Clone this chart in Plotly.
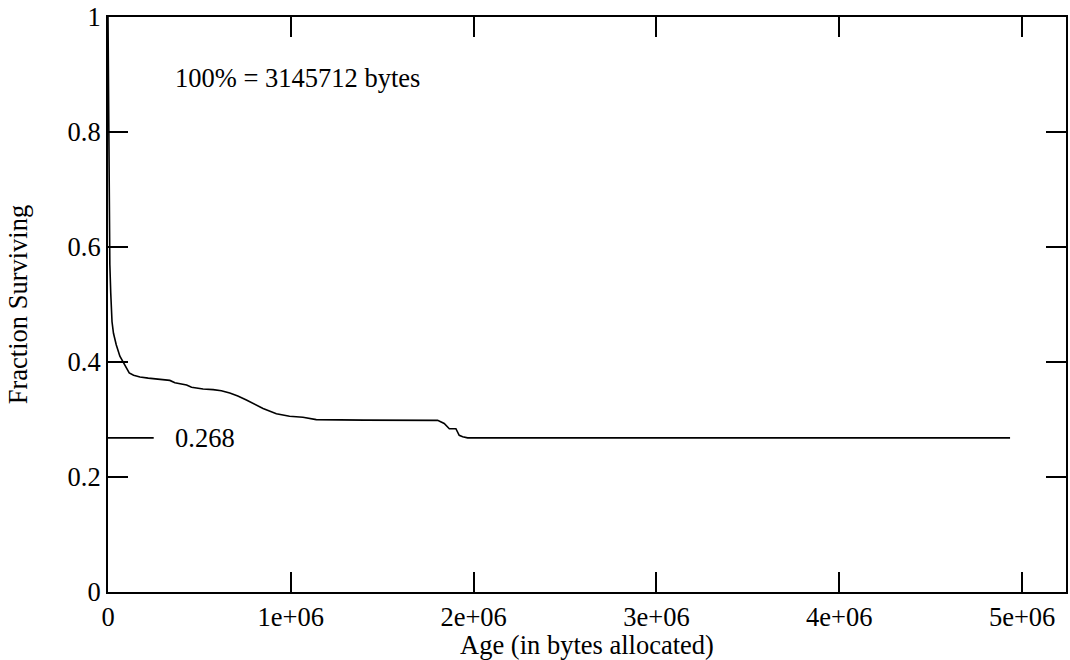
import plotly.graph_objects as go

age = [0, 2000, 4000, 7000, 10000, 15000, 22000, 30000, 45000, 65000,
       85000, 100000, 116000, 140000, 175000, 220000, 266000, 338000, 366000, 400000,
       430000, 457000, 520000, 575000, 620000, 666000, 710000, 757000, 800000, 848000,
       921000, 993000, 1066000, 1139000, 1400000, 1700000, 1803000, 1839000, 1867000, 1903000,
       1921000, 1940000, 1967000, 2500000, 3500000, 4934000]
fraction = [1.0, 0.92, 0.80, 0.66, 0.57, 0.52, 0.47, 0.45, 0.43, 0.41,
            0.398, 0.388, 0.381, 0.377, 0.374, 0.372, 0.370, 0.368, 0.364, 0.362,
            0.360, 0.356, 0.353, 0.352, 0.350, 0.346, 0.341, 0.334, 0.327, 0.319,
            0.310, 0.3056, 0.304, 0.2998, 0.299, 0.299, 0.2985, 0.293, 0.284, 0.284,
            0.2726, 0.270, 0.268, 0.268, 0.268, 0.268]

x_ticks = [0, 1e6, 2e6, 3e6, 4e6, 5e6]
x_labels = ["0", "1e+06", "2e+06", "3e+06", "4e+06", "5e+06"]
y_ticks = [0, 0.2, 0.4, 0.6, 0.8, 1]
y_labels = ["0", "0.2", "0.4", "0.6", "0.8", "1"]

final_value = 0.268
total_label = "100% = 3145712 bytes"
marker_len = 0.25e6
label_x = 0.355e6
note_y = 0.894

FONT = "Liberation Serif, Times New Roman, serif"
FS = 26.5

fig = go.Figure()
fig.add_trace(go.Scatter(x=age, y=fraction, mode="lines",
                         line=dict(color="black", width=1.6), showlegend=False,
                         hoverinfo="skip"))
fig.add_trace(go.Scatter(x=[0, marker_len], y=[final_value, final_value], mode="lines",
                         line=dict(color="black", width=1.6), showlegend=False,
                         hoverinfo="skip"))

fig.add_annotation(x=label_x, y=final_value, text=f"{final_value:g}", showarrow=False,
                   xanchor="left", yanchor="middle", font=dict(size=FS, color="black", family=FONT))
fig.add_annotation(x=label_x, y=note_y, text=total_label, showarrow=False,
                   xanchor="left", yanchor="middle", font=dict(size=FS, color="black", family=FONT))

axis_common = dict(showline=True, linewidth=2, linecolor="black", mirror="allticks",
                   ticks="inside", ticklen=20, tickwidth=1.5, tickcolor="black",
                   showgrid=False, zeroline=False,
                   tickfont=dict(size=FS, color="black", family=FONT))

fig.update_xaxes(range=[0, 5.24e6], tickvals=x_ticks, ticktext=x_labels,
                 title=dict(text="Age (in bytes allocated)", standoff=0,
                            font=dict(size=FS, color="black", family=FONT)),
                 **axis_common)
fig.update_yaxes(range=[0, 1], tickvals=y_ticks, ticktext=y_labels,
                 title=dict(text="Fraction Surviving", standoff=32,
                            font=dict(size=FS, color="black", family=FONT)),
                 **axis_common)

fig.update_layout(width=1070, height=660, margin=dict(l=108, r=2, t=16, b=68),
                  plot_bgcolor="white", paper_bgcolor="white",
                  font=dict(family=FONT, color="black", size=FS))

fig.write_html("out.html")
